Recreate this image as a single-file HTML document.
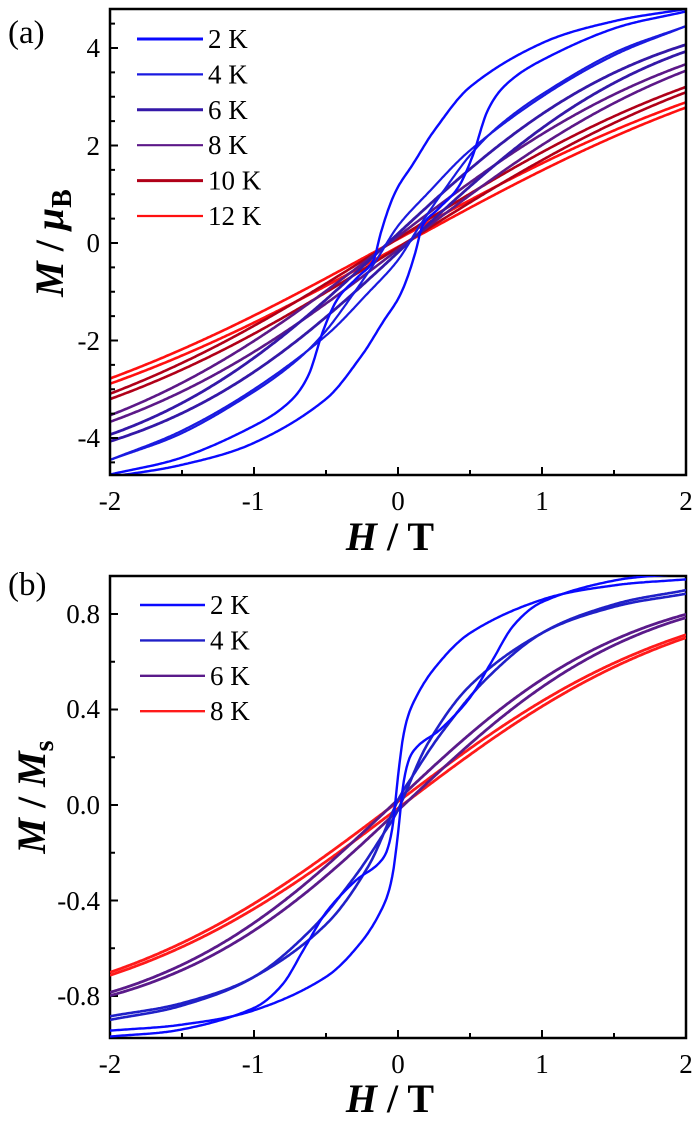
<!DOCTYPE html>
<html><head><meta charset="utf-8">
<style>
html,body{margin:0;padding:0;background:#fff;}
svg{display:block;}
text{font-family:"Liberation Serif","DejaVu Serif",serif;fill:#000;}
</style></head>
<body>
<svg id="s" width="700" height="1123" viewBox="0 0 700 1123" xmlns="http://www.w3.org/2000/svg">
<g id="curves"></g>
<g id="axes" fill="none" stroke="#000" stroke-width="2.5">
  <rect x="110" y="9" width="576" height="466"/>
  <rect x="110" y="576" width="576" height="462"/>
</g>
<g id="ticks" stroke="#000" stroke-width="2"></g>
<text x="8" y="43" font-size="33">(a)</text>
<g font-size="27" text-anchor="end">
  <text x="100" y="57">4</text><text x="100" y="155">2</text><text x="100" y="252">0</text>
  <text x="100" y="350">-2</text><text x="100" y="447">-4</text>
</g>
<g font-size="27" text-anchor="middle">
  <text x="110" y="510">-2</text><text x="253" y="510">-1</text><text x="398" y="510">0</text>
  <text x="542" y="510">1</text><text x="686" y="510">2</text>
</g>
<text x="390" y="550" font-size="40" font-weight="bold" text-anchor="middle"><tspan font-style="italic">H</tspan> / T</text>
<text transform="translate(63,243) rotate(-90)" font-size="40" font-weight="bold" text-anchor="middle"><tspan font-style="italic">M</tspan> / <tspan font-style="italic">μ</tspan><tspan font-size="28" dy="8">B</tspan></text>
<text x="8" y="595" font-size="33">(b)</text>
<g font-size="27" text-anchor="end">
  <text x="100" y="623">0.8</text><text x="100" y="718">0.4</text><text x="100" y="814">0.0</text>
  <text x="100" y="910">-0.4</text><text x="100" y="1005">-0.8</text>
</g>
<g font-size="27" text-anchor="middle">
  <text x="110" y="1073">-2</text><text x="253" y="1073">-1</text><text x="398" y="1073">0</text>
  <text x="542" y="1073">1</text><text x="686" y="1073">2</text>
</g>
<text x="390" y="1112" font-size="40" font-weight="bold" text-anchor="middle"><tspan font-style="italic">H</tspan> / T</text>
<text transform="translate(45,797) rotate(-90)" font-size="40" font-weight="bold" text-anchor="middle"><tspan font-style="italic">M</tspan> / <tspan font-style="italic">M</tspan><tspan font-size="28" dy="8">s</tspan></text>
<g id="legend"></g>
</svg>
<script>
var NS="http://www.w3.org/2000/svg";
function el(p,n,a){var e=document.createElementNS(NS,n);for(var k in a)e.setAttribute(k,a[k]);p.appendChild(e);return e;}
var tk=document.getElementById('ticks');
function xt(y0){for(var i=0;i<=8;i++){var x=110+i*72;var L=(i%2==0)?8:5;el(tk,'line',{x1:x,y1:y0,x2:x,y2:y0-L});}}
xt(475);xt(1038);
for(var v=-4.5;v<=4.6;v+=0.5){var y=243-v*48.75;if(y<12||y>472)continue;var L=(Math.abs(v)%1==0 && (Math.round(v)%2==0))?8:5;el(tk,'line',{x1:110,y1:y,x2:110+L,y2:y});}
for(var i=-4;i<=4;i++){var v=i*0.2;var y=805-v*238.75;if(y<578||y>1036)continue;var L=(i%2==0)?8:5;el(tk,'line',{x1:110,y1:y,x2:110+L,y2:y});}
function interp(pts,h){
 for(var i=0;i<pts.length-1;i++){if(h>=pts[i][0]&&h<=pts[i+1][0]){var a=pts[i],b=pts[i+1];var t=(h-a[0])/(b[0]-a[0]);
  var p0=pts[Math.max(0,i-1)],p3=pts[Math.min(pts.length-1,i+2)];
  var m1=(b[1]-p0[1])/(b[0]-p0[0])*(b[0]-a[0]),m2=(p3[1]-a[1])/(p3[0]-a[0])*(b[0]-a[0]);
  var t2=t*t,t3=t2*t;return (2*t3-3*t2+1)*a[1]+(t3-2*t2+t)*m1+(-2*t3+3*t2)*b[1]+(t3-t2)*m2;}}
 return pts[pts.length-1][1];}
var cg=document.getElementById('curves');
function loop(up,Y0,sc,color,w){
 var d1='',d2='';
 for(var i=0;i<=400;i++){var h=-2+i*0.01;var x=110+(h+2)*144;
  var yu=Y0-up(h)*sc,yd=Y0+up(-h)*sc;
  d1+=(i?'L':'M')+x.toFixed(1)+' '+yu.toFixed(1);d2+=(i?'L':'M')+x.toFixed(1)+' '+yd.toFixed(1);}
 el(cg,'path',{d:d1,stroke:color,'stroke-width':w,fill:'none'});
 el(cg,'path',{d:d2,stroke:color,'stroke-width':w,fill:'none'});}
function tanhF(A,k,off){return function(h){return A*Math.tanh(k*(h+off));};}
var a2=[[-2,-4.75],[-1.5,-4.4],[-1,-3.75],[-0.75,-3.25],[-0.62,-2.7],[-0.52,-1.8],[-0.42,-1.15],[-0.28,-0.7],[-0.17,-0.35],[-0.12,0.2],[-0.06,0.75],[0,1.15],[0.1,1.6],[0.25,2.3],[0.5,3.2],[1,4.1],[1.5,4.55],[2,4.8]];
var a4=[[-2,-4.45],[-1.5,-3.9],[-1,-3.05],[-0.7,-2.4],[-0.5,-1.8],[-0.3,-1.0],[-0.15,-0.35],[0,0.35],[0.2,1.0],[0.5,1.9],[1,3.0],[1.5,3.85],[2,4.45]];
var clip=el(document.getElementById('s'),'clipPath',{id:'ca'});el(clip,'rect',{x:110,y:9,width:576,height:466});
var clip2=el(document.getElementById('s'),'clipPath',{id:'cb'});el(clip2,'rect',{x:110,y:576,width:576,height:462});
cg.setAttribute('clip-path','url(#ca)');
loop(tanhF(4.9,0.33,0.05),243,48.75,'#ff1010',2.6);
loop(tanhF(4.91,0.38,0.05),243,48.75,'#b00018',2.6);
loop(tanhF(5.03,0.45,0.06),243,48.75,'#5c1888',2.6);
loop(tanhF(5.0,0.55,0.07),243,48.75,'#3418a8',2.8);
loop(function(h){return interp(a4,h);},243,48.75,'#1a1ae0',2.2);
loop(function(h){return interp(a2,h);},243,48.75,'#0a0aff',2.4);
cg=el(document.getElementById('s'),'g',{'clip-path':'url(#cb)'});
var b2=[[-2,-0.97],[-1.5,-0.94],[-1,-0.85],[-0.8,-0.75],[-0.65,-0.6],[-0.5,-0.45],[-0.3,-0.32],[-0.1,-0.22],[-0.04,-0.1],[0,0.12],[0.04,0.3],[0.1,0.42],[0.25,0.57],[0.5,0.72],[1,0.86],[1.5,0.92],[2,0.945]];
loop(tanhF(0.95,0.48,0.03),805,238.75,'#ff1a1a',2.8);
loop(tanhF(0.95,0.6,0.04),805,238.75,'#5a1a8a',2.8);
var b4=[[-2,-0.9],[-1.5,-0.84],[-1,-0.72],[-0.6,-0.52],[-0.3,-0.3],[-0.1,-0.12],[0,-0.02],[0.2,0.25],[0.5,0.5],[1,0.72],[1.5,0.83],[2,0.885]];
loop(function(h){return interp(b4,h);},805,238.75,'#2020c8',2.6);
loop(function(h){return interp(b2,h);},805,238.75,'#0a0aff',2.4);
var lg=document.getElementById('legend');
var la=[['2 K','#0a0aff',3],['4 K','#1a1ae0',2.2],['6 K','#3418a8',3],['8 K','#5c1888',2.2],['10 K','#b00018',3],['12 K','#ff1010',2.2]];
la.forEach(function(r,i){var y=39+i*35.4;el(lg,'line',{x1:137,y1:y,x2:203,y2:y,stroke:r[1],'stroke-width':r[2]});var t=el(lg,'text',{x:208,y:y+9,'font-size':27});t.textContent=r[0];});
var lb=[['2 K','#0a0aff'],['4 K','#2020c8'],['6 K','#5a1a8a'],['8 K','#ff1a1a']];
lb.forEach(function(r,i){var y=605+i*35.4;el(lg,'line',{x1:140,y1:y,x2:205,y2:y,stroke:r[1],'stroke-width':2.4});var t=el(lg,'text',{x:210,y:y+9,'font-size':27});t.textContent=r[0];});
</script>
</body></html>
